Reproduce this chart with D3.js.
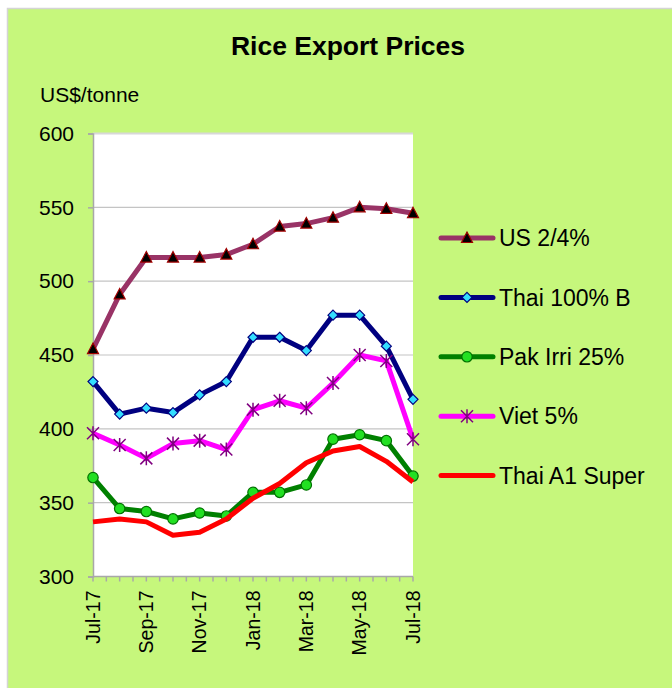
<!DOCTYPE html>
<html><head><meta charset="utf-8">
<script src="https://cdn.jsdelivr.net/npm/d3@7"></script>
<style>html,body{margin:0;padding:0;background:#fff;} svg{display:block;font-family:"Liberation Sans",Arial,sans-serif;}</style>
</head><body>
<script>
const months = ["Jul-17","Aug-17","Sep-17","Oct-17","Nov-17","Dec-17","Jan-18","Feb-18","Mar-18","Apr-18","May-18","Jun-18","Jul-18"];
const tickLabels = ["Jul-17","Sep-17","Nov-17","Jan-18","Mar-18","May-18","Jul-18"];
const yTicks = [300,350,400,450,500,550,600];
const us24 =      [454,491,516,516,516,518,525,537,539,543,550,549,546];
const thai100B =  [432,410,414,411,423,432,462,462,453,477,477,456,420];
const pakIrri25 = [367,346,344,339,343,341,357,357,362,393,396,392,368];
const viet5 =     [397,389,380,390,392,386,413,419,414,431,450,446,393];
const thaiA1 =    [337,339,337,328,330,339,353,363,377,385,388,378,364];
const seriesNames = ["US 2/4%","Thai 100% B","Pak Irri 25%","Viet 5%","Thai A1 Super"];

const W=672,H=688;
const svg=d3.select("body").append("svg").attr("width",W).attr("height",H);
svg.append("rect").attr("x",7.5).attr("y",8.5).attr("width",W).attr("height",H).attr("fill","#c6f77c").attr("stroke","#d4d4d4").attr("stroke-width",1.5);

const x=d3.scalePoint().domain(months).range([93,413]);
const y=d3.scaleLinear().domain([300,600]).range([576.5,133.5]);

// plot area
svg.append("rect").attr("x",93).attr("y",133.5).attr("width",320).attr("height",443).attr("fill","#fff");
svg.append("g").selectAll("line").data(yTicks.filter(d=>d>300)).join("line")
 .attr("x1",93).attr("x2",413).attr("y1",d=>y(d)).attr("y2",d=>y(d))
 .attr("stroke",d=>d===600?"#d8d8d8":"#c4c4c4").attr("stroke-width",d=>d===600?2:1.2);

// y axis
const yAxis=d3.axisLeft(y).tickValues(yTicks).tickSize(5).tickPadding(14).tickFormat(d3.format("d"));
const gy=svg.append("g").attr("transform","translate(93,0)").call(yAxis);
gy.select(".domain").attr("stroke","#a8a8a8").attr("stroke-width",1.5);
gy.selectAll(".tick line").attr("stroke","#a8a8a8").attr("stroke-width",1.5);
gy.selectAll("text").attr("font-size",21).attr("fill","#000").attr("font-family","Liberation Sans, Arial, sans-serif");

// x axis: half-month ticks
const halfIdx=d3.range(0,12.5,0.5);
const xl=d3.scaleLinear().domain([0,12]).range([93,413]);
const gx=svg.append("g").attr("transform","translate(0,576.5)");
gx.append("line").attr("x1",93).attr("x2",413).attr("stroke","#a8a8a8").attr("stroke-width",1.5);
gx.selectAll("line.t").data(halfIdx).join("line").attr("class","t")
 .attr("x1",d=>xl(d)).attr("x2",d=>xl(d)).attr("y1",0).attr("y2",5).attr("stroke","#a8a8a8").attr("stroke-width",1.5);
gx.selectAll("text").data(tickLabels).join("text")
 .attr("transform",d=>`translate(${x(d)},14) rotate(-90)`)
 .attr("text-anchor","end").attr("dy","0.35em").attr("font-size",19.5).attr("fill","#000").text(d=>d);

// titles
svg.append("text").attr("x",348).attr("y",55).attr("text-anchor","middle").attr("font-size",26.5).attr("font-weight","bold").text("Rice Export Prices");
svg.append("text").attr("x",40).attr("y",102).attr("font-size",21).text("US$/tonne");

// marker drawers
function triangle(g,cx,cy){g.append("path").attr("d",`M${cx},${cy-6}L${cx+5.5},${cy+4.5}L${cx-5.5},${cy+4.5}Z`).attr("fill","#000").attr("stroke","#a00000").attr("stroke-width",1.2);}
function diamond(g,cx,cy){g.append("path").attr("d",`M${cx},${cy-5}L${cx+5},${cy}L${cx},${cy+5}L${cx-5},${cy}Z`).attr("fill","#33ddff").attr("stroke","#000080").attr("stroke-width",1.2);}
function circle(g,cx,cy){g.append("circle").attr("cx",cx).attr("cy",cy).attr("r",5.2).attr("fill","#22e022").attr("stroke","#007000").attr("stroke-width",1.2);}
function star(g,cx,cy){const r=6;g.append("path").attr("d",`M${cx-r},${cy-r}L${cx+r},${cy+r}M${cx-r},${cy+r}L${cx+r},${cy-r}M${cx},${cy-r-1}L${cx},${cy+r+1}`).attr("stroke","#800080").attr("stroke-width",1.5).attr("fill","none");}

const series=[
 {name:seriesNames[0],vals:us24,color:"#993366",marker:triangle},
 {name:seriesNames[1],vals:thai100B,color:"#000080",marker:diamond},
 {name:seriesNames[2],vals:pakIrri25,color:"#008000",marker:circle},
 {name:seriesNames[3],vals:viet5,color:"#ff00ff",marker:star},
 {name:seriesNames[4],vals:thaiA1,color:"#ff0000",marker:null}
];
const line=d3.line().x((d,i)=>x(months[i])).y(d=>y(d));
series.forEach(s=>{
  const g=svg.append("g");
  g.append("path").datum(s.vals).attr("d",line).attr("fill","none").attr("stroke",s.color).attr("stroke-width",5).attr("stroke-linejoin","round");
  if(s.marker) s.vals.forEach((v,i)=>s.marker(g,x(months[i]),y(v)));
});

// legend
const ly0=238,ldy=59.4;
series.forEach((s,i)=>{
  const g=svg.append("g");
  const yy=ly0+i*ldy;
  g.append("line").attr("x1",441).attr("x2",493).attr("y1",yy).attr("y2",yy).attr("stroke",s.color).attr("stroke-width",5).attr("stroke-linecap","round");
  if(s.marker) s.marker(g,467,yy);
  g.append("text").attr("x",499).attr("y",yy).attr("dy","0.36em").attr("font-size",23).text(s.name);
});
</script>
</body></html>
